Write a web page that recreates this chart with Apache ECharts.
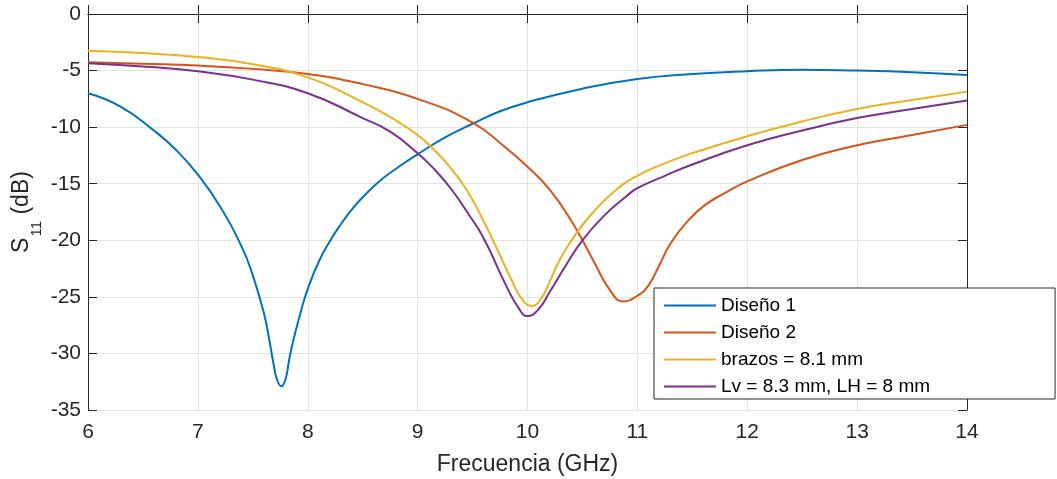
<!DOCTYPE html>
<html>
<head>
<meta charset="utf-8">
<script src="https://cdn.jsdelivr.net/npm/echarts@6/dist/echarts.min.js"></script>
<style>
  html, body { margin: 0; padding: 0; background: #fff; }
  #chart { width: 1057px; height: 479px; }
</style>
</head>
<body>
<div id="chart"></div>
<script>
// values (GHz, dB)
const freqD1 = [6.0, 6.3, 6.6, 6.8, 7.0, 7.2, 7.4, 7.5, 7.6, 7.65, 7.69, 7.72, 7.76, 7.8, 7.83, 7.87, 7.94, 8.0, 8.1, 8.2, 8.3, 8.4, 8.5, 8.65, 8.8, 9.0, 9.25, 9.5, 9.75, 10.0, 10.5, 11.0, 11.5, 12.0, 12.5, 13.0, 13.5, 14.0];
const s11D1 = [-7.0, -8.2, -10.3, -12.0, -14.2, -17.0, -20.6, -23.1, -26.4, -28.8, -31.0, -32.3, -32.9, -32.2, -30.6, -28.8, -26.2, -24.3, -21.9, -20.1, -18.6, -17.3, -16.2, -14.8, -13.7, -12.4, -10.9, -9.7, -8.6, -7.8, -6.6, -5.75, -5.3, -5.05, -4.92, -5.0, -5.15, -5.4];

const freqD2 = [6.0, 6.5, 7.0, 7.5, 8.0, 8.5, 9.0, 9.5, 9.8, 10.0, 10.2, 10.4, 10.6, 10.75, 10.87, 11.0, 11.1, 11.2, 11.3, 11.45, 11.6, 11.8, 12.0, 12.5, 13.0, 13.5, 14.0];
const s11D2 = [-4.27, -4.4, -4.56, -4.85, -5.3, -6.2, -7.5, -9.6, -11.8, -13.5, -15.5, -18.3, -21.8, -24.4, -25.4, -24.9, -24.0, -22.2, -20.3, -18.4, -17.0, -15.8, -14.8, -12.9, -11.6, -10.7, -9.8];

const freqBrazos = [6.0, 6.5, 7.0, 7.5, 8.0, 8.5, 8.75, 9.0, 9.15, 9.3, 9.45, 9.6, 9.72, 9.85, 9.95, 10.04, 10.12, 10.2, 10.3, 10.45, 10.6, 10.8, 11.0, 11.25, 11.5, 12.0, 12.5, 13.0, 13.5, 14.0];
const s11Brazos = [-3.24, -3.45, -3.8, -4.45, -5.6, -7.8, -9.1, -10.7, -12.0, -13.6, -15.6, -18.3, -20.7, -23.4, -25.2, -25.8, -25.2, -23.7, -21.6, -19.3, -17.5, -15.6, -14.3, -13.2, -12.3, -10.8, -9.5, -8.4, -7.6, -6.86];

const freqLv = [6.0, 6.5, 7.0, 7.5, 8.0, 8.5, 8.75, 9.0, 9.15, 9.3, 9.45, 9.6, 9.8, 9.92, 10.0, 10.1, 10.2, 10.35, 10.5, 10.7, 10.9, 11.0, 11.25, 11.5, 12.0, 12.5, 13.0, 13.5, 14.0];
const s11Lv = [-4.35, -4.65, -5.06, -5.8, -7.0, -9.2, -10.4, -12.3, -13.7, -15.4, -17.5, -19.8, -23.9, -26.0, -26.7, -26.1, -24.6, -22.2, -20.0, -17.8, -16.1, -15.4, -14.3, -13.3, -11.6, -10.3, -9.2, -8.4, -7.65];

const seriesNames = ['Diseño 1', 'Diseño 2', 'brazos = 8.1 mm', 'Lv = 8.3 mm, LH = 8 mm'];
const seriesColors = ['#0072BD', '#D95319', '#EDB120', '#7E2F8E'];

const xTicks = { min: 6, max: 14, interval: 1 };
const yTicks = { min: -35, max: 0, interval: 5 };

const pairs = (xs, ys) => xs.map((x, i) => [x, ys[i]]);
const curves = [
  pairs(freqD1, s11D1),
  pairs(freqD2, s11D2),
  pairs(freqBrazos, s11Brazos),
  pairs(freqLv, s11Lv),
];

const txt = '#262626';
const font = 'Liberation Sans, Arial, Helvetica, sans-serif';

const chart = echarts.init(document.getElementById('chart'), null, { renderer: 'canvas' });

const option = {
  backgroundColor: '#fff',
  animation: false,
  textStyle: { fontFamily: font },
  grid: { left: 88, right: 90, top: 14, bottom: 69, outerBoundsMode: 'none' },
  legend: {
    orient: 'vertical',
    left: 654,
    top: 288,
    data: seriesNames,
    icon: 'rect',
    itemWidth: 52,
    itemHeight: 2,
    itemGap: 8,
    padding: [8, 125, 3, 10],
    borderColor: txt,
    borderWidth: 1,
    backgroundColor: '#fff',
    borderRadius: 0,
    textStyle: { fontSize: 19, color: '#000', fontFamily: font },
  },
  xAxis: [
    {
      type: 'value',
      min: xTicks.min,
      max: xTicks.max,
      interval: xTicks.interval,
      name: 'Frecuencia (GHz)',
      nameLocation: 'middle',
      nameGap: 43,
      nameTextStyle: { fontSize: 23, color: txt, fontFamily: font },
      axisLine: { lineStyle: { color: txt, width: 1 } },
      axisTick: { inside: true, length: 9, lineStyle: { color: txt } },
      axisLabel: { fontSize: 21, color: txt, margin: 12, fontFamily: font },
      splitLine: { show: true, lineStyle: { color: '#e3e3e3', width: 1 } },
    },
    {
      type: 'value',
      position: 'top',
      min: xTicks.min,
      max: xTicks.max,
      interval: xTicks.interval,
      axisLine: { show: true, lineStyle: { color: txt, width: 1 } },
      axisTick: { inside: true, length: 9, lineStyle: { color: txt } },
      axisLabel: { show: false },
      splitLine: { show: false },
    },
  ],
  yAxis: [
    {
      type: 'value',
      min: yTicks.min,
      max: yTicks.max,
      interval: yTicks.interval,
      name: '{s|S}{sub|11}{s| (dB)}',
      nameLocation: 'middle',
      nameGap: 44,
      nameMoveOverlap: false,
      nameTextStyle: {
        color: txt,
        fontFamily: font,
        rich: {
          s: { fontSize: 23, color: txt, fontFamily: font },
          sub: { fontSize: 15, color: txt, fontFamily: font, padding: [30, 0, 0, 1] },
        },
      },
      axisLine: { show: true, lineStyle: { color: txt, width: 1 } },
      axisTick: { inside: true, length: 9, lineStyle: { color: txt } },
      axisLabel: { fontSize: 21, color: txt, margin: 7, fontFamily: font },
      splitLine: { show: true, lineStyle: { color: '#e3e3e3', width: 1 } },
    },
    {
      type: 'value',
      position: 'right',
      min: yTicks.min,
      max: yTicks.max,
      interval: yTicks.interval,
      axisLine: { show: true, lineStyle: { color: txt, width: 1 } },
      axisTick: { inside: true, length: 9, lineStyle: { color: txt } },
      axisLabel: { show: false },
      splitLine: { show: false },
    },
  ],
  series: curves.map((data, i) => ({
    name: seriesNames[i],
    type: 'line',
    data: data,
    symbol: 'none',
    smooth: 0.5,
    color: seriesColors[i],
    itemStyle: { color: seriesColors[i] },
    lineStyle: { color: seriesColors[i], width: 2 },
    z: 2 + i,
  })),
};

chart.setOption(option);
window.onresize = () => chart.resize();
</script>
</body>
</html>
